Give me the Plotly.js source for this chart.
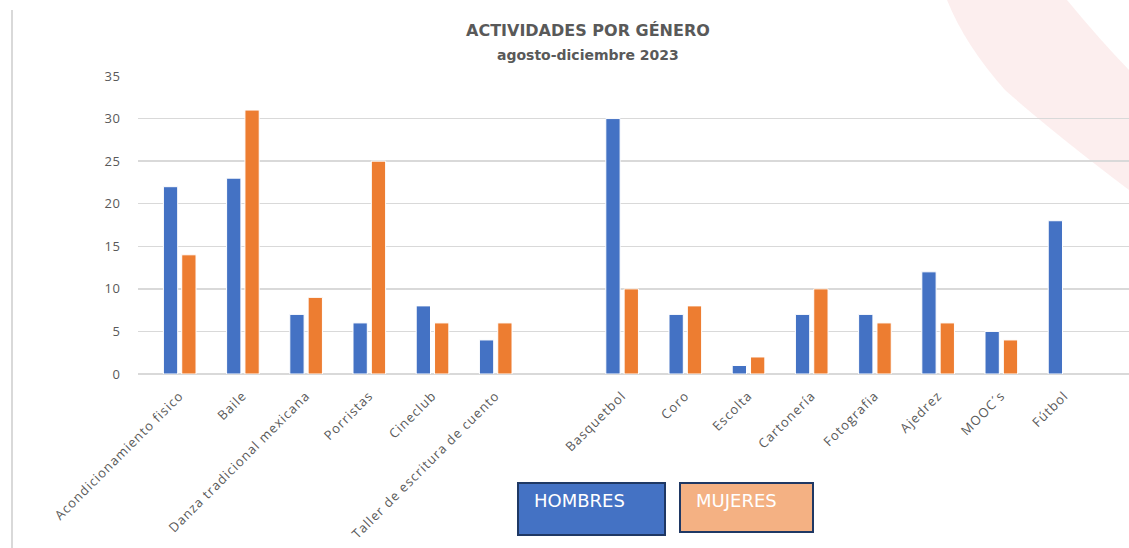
<!DOCTYPE html>
<html><head><meta charset="utf-8">
<script src="https://cdn.plot.ly/plotly-3.0.1.min.js"></script>
<style>html,body{margin:0;padding:0;background:#fff;}#chart{width:1129px;height:548px;}
.xtick text{letter-spacing:1px;}
.ytick text{letter-spacing:0.5px;}
</style>
</head><body><div id="chart"></div>
<script>
const categories = ["Acondicionamiento fisico","Baile","Danza tradicional mexicana","Porristas","Cineclub","Taller de escritura de cuento"," ","Basquetbol","Coro","Escolta","Cartonería","Fotografia","Ajedrez","MOOC´s","Fútbol"];
const hombres = [22,23,7,6,8,4,null,30,7,1,7,7,12,5,18];
const mujeres = [14,31,9,25,6,6,null,10,8,2,10,6,6,4,null];
const seriesNames = ["HOMBRES","MUJERES"];
const yTicks = [0,5,10,15,20,25,30,35];

const L=138, T=76, W=991, H=298;
const px = x => (x-L)/W;
const py = y => (T+H-y)/H;

const traces = [
  {type:'bar', name:seriesNames[0], x:categories, y:hombres, marker:{color:'#4472C4', line:{color:'#ffffff', width:1}}},
  {type:'bar', name:seriesNames[1], x:categories, y:mujeres, marker:{color:'#ED7D31', line:{color:'#ffffff', width:1}}}
];

const shapes = [
  {type:'path', xref:'paper', yref:'paper', layer:'below', line:{width:0}, fillcolor:'rgba(215,40,40,0.08)',
   path:`M ${px(947)} ${py(0)} L ${px(1067)} ${py(0)} Q ${px(1100)} ${py(40)} ${px(1129)} ${py(70)} L ${px(1129)} ${py(190)} Q ${px(1050)} ${py(130)} ${px(1005)} ${py(90)} Q ${px(965)} ${py(45)} ${px(947)} ${py(0)} Z`},
  {type:'line', xref:'paper', yref:'paper', layer:'below', x0:px(12), x1:px(12), y0:py(10), y1:py(548), line:{color:'#d9d9d9', width:2}},
  {type:'rect', xref:'paper', yref:'paper', x0:px(518), x1:px(665), y0:py(483), y1:py(535), fillcolor:'#4472C4', line:{color:'#1F3864', width:2}},
  {type:'rect', xref:'paper', yref:'paper', x0:px(680), x1:px(813), y0:py(483), y1:py(532), fillcolor:'#F4B183', line:{color:'#1F3864', width:2}}
];

const annotations = [
  {xref:'paper', yref:'paper', x:px(532), y:py(500), xanchor:'left', yanchor:'middle', showarrow:false, text:seriesNames[0], font:{family:'DejaVu Sans, sans-serif', size:18, color:'#ffffff'}},
  {xref:'paper', yref:'paper', x:px(694), y:py(500), xanchor:'left', yanchor:'middle', showarrow:false, text:seriesNames[1], font:{family:'DejaVu Sans, sans-serif', size:18, color:'#ffffff'}},
  {xref:'paper', yref:'paper', x:px(588), y:py(31), xanchor:'center', yanchor:'middle', showarrow:false, text:'<b>ACTIVIDADES POR GÉNERO</b>', font:{family:'DejaVu Sans, sans-serif', size:16, color:'#595959'}},
  {xref:'paper', yref:'paper', x:px(588), y:py(55), xanchor:'center', yanchor:'middle', showarrow:false, text:'<b>agosto-diciembre 2023</b>', font:{family:'DejaVu Sans, sans-serif', size:14, color:'#595959'}}
];

const layout = {
  width:1129, height:548,
  margin:{l:L, r:0, t:T, b:548-T-H, pad:0},
  paper_bgcolor:'#ffffff', plot_bgcolor:'rgba(0,0,0,0)',
  barmode:'group', bargap:0.42, bargroupgap:0.22,
  showlegend:false,
  font:{family:'Open Sans, Liberation Sans, sans-serif', color:'#595959'},
  xaxis:{type:'category', categoryorder:'array', categoryarray:categories, range:[-0.66, 15.02],
         tickangle:-45, tickfont:{size:13, color:'#595959'}, showgrid:false, ticks:'outside', ticklen:8, tickcolor:'rgba(0,0,0,0)', showline:false, zeroline:false, automargin:false},
  yaxis:{range:[0,35], tickvals:yTicks, ticktext:yTicks.map(String), showgrid:true, gridcolor:'#d9d9d9', gridwidth:1.5,
         zeroline:true, zerolinecolor:'#d9d9d9', zerolinewidth:1.5, tickfont:{size:13, color:'#595959'}, ticks:'outside', ticklen:14, tickcolor:'rgba(0,0,0,0)', showline:false, automargin:false},
  shapes:shapes, annotations:annotations
};
Plotly.newPlot('chart', traces, layout, {displayModeBar:false, staticPlot:true});
</script></body></html>
